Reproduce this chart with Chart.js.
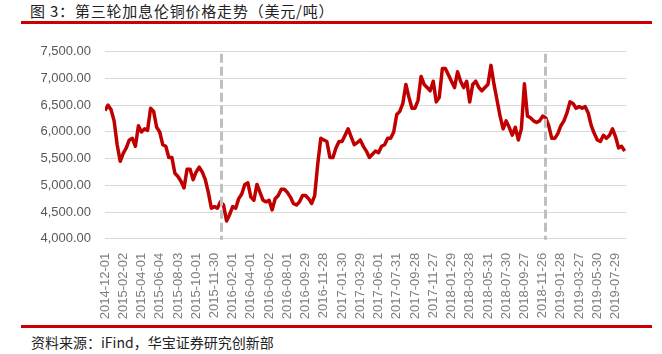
<!DOCTYPE html>
<html>
<head>
<meta charset="utf-8">
<script src="https://cdn.jsdelivr.net/npm/chart.js@4"></script>
<style>
  body { margin: 0; background: #fff; }
  #wrap { position: relative; width: 662px; height: 354px; overflow: hidden; font-family: "Noto Sans CJK SC", sans-serif; }
  #title { position: absolute; left: 30px; top: 1px; font-size: 15px; line-height: 20px; letter-spacing: 0.8px; color: #222; white-space: pre; }
  .rule { position: absolute; left: 21px; width: 631px; height: 3px; background: #CC0000; }
  #source { position: absolute; left: 31px; top: 333px; font-size: 14px; line-height: 18px; color: #222; }
  #box { position: absolute; left: 0; top: 30px; }
</style>
</head>
<body>
<div id="wrap">
  <div id="title">图 3：第三轮加息伦铜价格走势（美元/吨）</div>
  <div class="rule" style="top:21px"></div>
  <canvas id="box" width="662" height="290"></canvas>
  <div class="rule" style="top:325px"></div>
  <div id="source">资料来源：iFind，华宝证券研究创新部</div>
</div>
<script>
// x 轴标签，每隔 42 个交易日一个
const tickLabels = [
  '2014-12-01', '2015-02-02', '2015-04-01', '2015-06-04', '2015-08-03', '2015-10-01',
  '2015-11-30', '2016-02-01', '2016-04-01', '2016-06-02', '2016-08-01', '2016-09-29',
  '2016-11-28', '2017-01-30', '2017-03-29', '2017-06-01', '2017-07-31', '2017-09-28',
  '2017-11-27', '2018-01-29', '2018-03-28', '2018-05-31', '2018-07-30', '2018-09-27',
  '2018-11-26', '2019-01-28', '2019-03-27', '2019-05-30', '2019-07-29'
];
const TICK_STEP = 42;   // trading days between labels
const SAMPLE_STEP = 7;  // trading days between price samples

// LME copper, USD/t, one sample every 7 trading days
const prices = [
  6400, 6500, 6414, 6206, 5760, 5450, 5600, 5700, 5849, 5880,
  5730, 6116, 5998, 6057, 6027, 6443, 6384, 6087, 5998, 5760,
  5730, 5522, 5522, 5225, 5165, 5076, 4950, 5300, 5300, 5105,
  5250, 5340, 5250, 5105, 4868, 4570, 4600, 4570, 4690, 4630,
  4333, 4450, 4600, 4570, 4750, 4838, 5016, 5046, 4779, 4720,
  5016, 4868, 4720, 4690, 4720, 4540, 4750, 4808, 4927, 4927,
  4868, 4779, 4660, 4630, 4690, 4808, 4808, 4750, 4660, 4808,
  5400, 5879, 5849, 5820, 5522, 5522, 5700, 5820, 5820, 5938,
  6057, 5908, 5760, 5800, 5849, 5730, 5641, 5522, 5581, 5641,
  5611, 5730, 5760, 5879, 5879, 5998, 6325, 6384, 6532, 6889,
  6651, 6443, 6443, 6592, 7038, 6889, 6830, 6770, 6949, 6562,
  6650, 7186, 7186, 7068, 6949, 6830, 7127, 6949, 6830, 6949,
  6562, 6889, 6949, 6830, 6770, 6830, 6889, 7246, 6889, 6592,
  6295, 6057, 6206, 6087, 5938, 6087, 5849, 6057, 6900, 6295,
  6265, 6206, 6176, 6206, 6295, 6265, 6116, 5879, 5879, 5968,
  6116, 6206, 6354, 6562, 6532, 6443, 6473, 6443, 6473, 6354,
  6116, 5968, 5849, 5820, 5938, 5879, 5938, 6057, 5908, 5700,
  5730, 5640
];

// 加息起止位置（交易日序号）
const hikeMarks = [268, 1013];

const hikeLines = {
  id: 'hikeLines',
  afterDatasetsDraw(chart) {
    const { ctx, chartArea, scales } = chart;
    ctx.save();
    ctx.strokeStyle = '#BFBFBF';
    ctx.lineWidth = 3;
    ctx.setLineDash([9, 4]);
    hikeMarks.forEach(t => {
      const x = Math.round(scales.x.getPixelForValue(t)) + 0.5;
      ctx.beginPath();
      ctx.moveTo(x, chartArea.top + 2);
      ctx.lineTo(x, chartArea.bottom + 1);
      ctx.stroke();
    });
    ctx.restore();
  }
};

const tickFont = { family: "'Liberation Sans', Arial, sans-serif", size: 13 };

new Chart(document.getElementById('box').getContext('2d'), {
  type: 'line',
  data: {
    datasets: [{
      data: prices.map((v, i) => ({ x: i * SAMPLE_STEP, y: v })),
      borderColor: '#C00000',
      borderWidth: 3.5,
      pointRadius: 0,
      tension: 0,
      borderJoinStyle: 'round'
    }]
  },
  options: {
    responsive: false,
    animation: false,
    devicePixelRatio: 1,
    layout: { padding: { left: 0, top: 4, right: 36, bottom: 0 } },
    plugins: { legend: { display: false }, tooltip: { enabled: false } },
    scales: {
      x: {
        type: 'linear',
        min: 0,
        max: 1200,
        afterBuildTicks: scale => {
          scale.ticks = tickLabels.map((_, k) => ({ value: k * TICK_STEP }));
        },
        afterFit: scale => { scale.height = 81.3; },
        grid: { display: false, drawTicks: false },
        border: { display: false },
        ticks: {
          autoSkip: false,
          maxRotation: 90,
          minRotation: 90,
          padding: 14,
          color: '#7F7F7F',
          font: tickFont,
          callback: v => tickLabels[Math.round(v / TICK_STEP)]
        }
      },
      y: {
        min: 4000,
        max: 7500,
        afterFit: scale => { scale.width = 105; },
        grid: { color: '#D9D9D9', lineWidth: 1, drawTicks: false },
        border: { display: false },
        ticks: {
          stepSize: 500,
          padding: 14,
          color: '#595959',
          font: tickFont,
          callback: v => v.toLocaleString('en-US', { minimumFractionDigits: 2, maximumFractionDigits: 2 })
        }
      }
    }
  },
  plugins: [hikeLines]
});
</script>
</body>
</html>
